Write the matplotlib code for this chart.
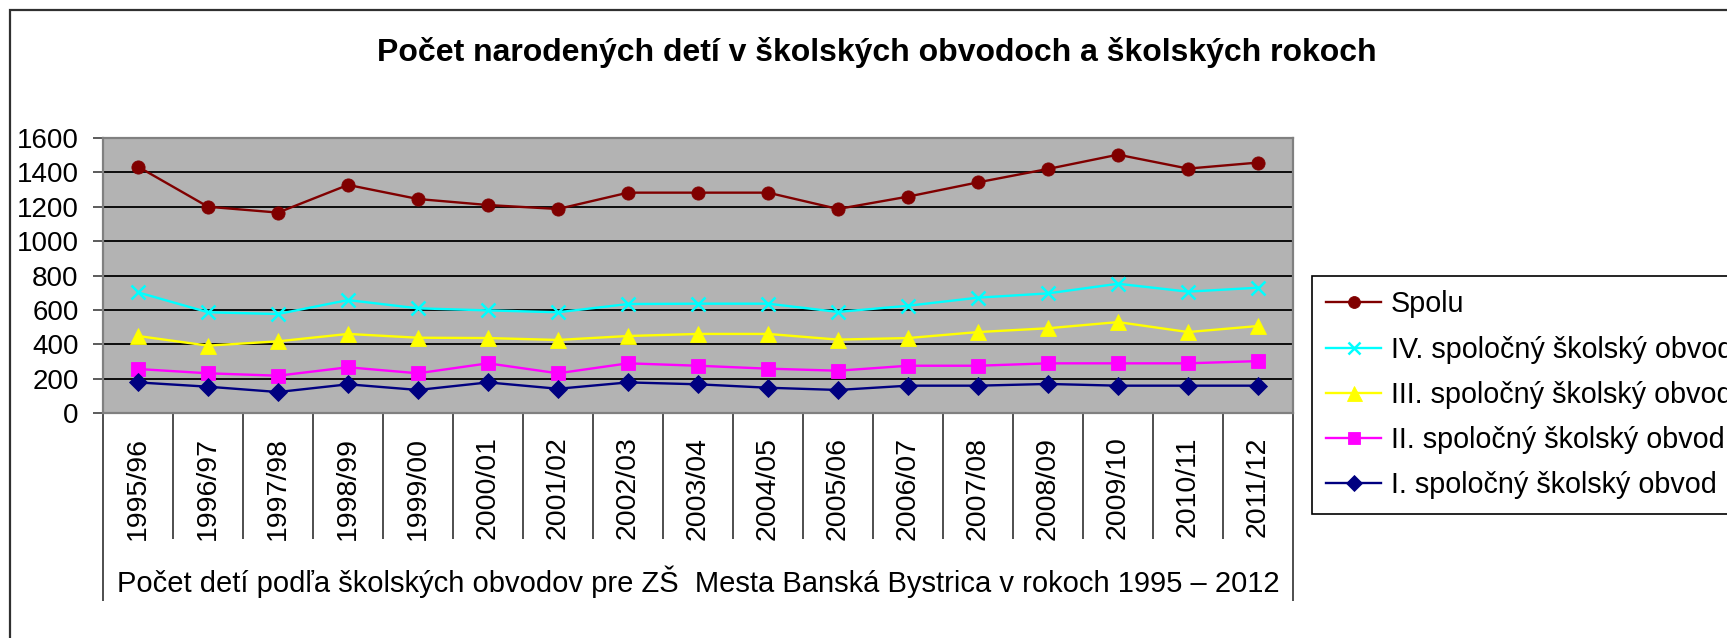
import matplotlib
matplotlib.use("Agg")
import matplotlib.pyplot as plt
from matplotlib.patches import Rectangle

plt.rcParams["font.family"] = ["Liberation Sans", "DejaVu Sans"]

# Data
years = ["1995/96", "1996/97", "1997/98", "1998/99", "1999/00", "2000/01",
         "2001/02", "2002/03", "2003/04", "2004/05", "2005/06", "2006/07",
         "2007/08", "2008/09", "2009/10", "2010/11", "2011/12"]
spolu = [1433, 1200, 1166, 1327, 1245, 1210, 1187, 1282, 1282, 1282, 1187,
         1259, 1342, 1420, 1503, 1422, 1457]
obvod_iv = [702, 586, 576, 657, 609, 597, 586, 634, 636, 636, 588, 624, 671,
            696, 752, 706, 729]
obvod_iii = [448, 392, 417, 460, 438, 436, 425, 448, 460, 460, 427, 436, 471,
             493, 529, 471, 506]
obvod_ii = [256, 231, 217, 266, 231, 289, 231, 289, 275, 258, 246, 275, 275,
            289, 289, 289, 302]
obvod_i = [178, 153, 122, 167, 134, 178, 141, 178, 167, 147, 134, 159, 159,
           169, 159, 159, 159]

series = [
    ("Spolu", spolu, "#800000", "o", 9.5),
    ("IV. spoločný školský obvod", obvod_iv, "#00FFFF", "x", 10),
    ("III. spoločný školský obvod", obvod_iii, "#FFFF00", "^", 12),
    ("II. spoločný školský obvod", obvod_ii, "#FF00FF", "s", 9.5),
    ("I. spoločný školský obvod", obvod_i, "#000080", "D", 9),
]

W, H = 1727, 638
fig = plt.figure(figsize=(W / 100, H / 100), dpi=100)
ax = fig.add_axes([103 / W, 1 - 413 / H, (1293 - 103) / W, (413 - 138) / H])
ax.set_facecolor("#B3B3B3")

x = list(range(len(years)))
for label, vals, color, marker, ms in series:
    ax.plot(x, vals, color=color, linewidth=1.7, marker=marker, markersize=ms,
            markeredgewidth=1.8 if marker == "x" else 0.6,
            markeredgecolor=color, label=label, zorder=3)

# y axis
ax.set_ylim(0, 1600)
ax.set_yticks(range(0, 1601, 200))
ax.yaxis.grid(True, color="black", linewidth=1.3)
ax.set_axisbelow(True)
ax.tick_params(axis="y", labelsize=20, length=7.5, width=1.2,
               color="#404040", pad=10)

# x axis: category "table" with separators
ax.set_xlim(-0.5, len(years) - 0.5)
ax.set_xticks(x)
ax.set_xticklabels(years, rotation=90, va="top", ha="center")
ax.tick_params(axis="x", which="major", length=0, labelsize=20.5, pad=17)
ax.set_xticks([i - 0.5 for i in range(len(years) + 1)], minor=True)
ax.tick_params(axis="x", which="minor", length=91, width=1.3,
               color="#404040")
minor = ax.xaxis.get_minor_ticks()
for t in (minor[0], minor[-1]):
    t.tick1line.set_markersize(135)
    t.tick1line.set_color("black")

for s in ax.spines.values():
    s.set_color("#808080")
    s.set_linewidth(1.6)

ax.text(0.5, -0.615, "Počet detí podľa školských obvodov pre ZŠ  Mesta Banská "
        "Bystrica v rokoch 1995 – 2012", transform=ax.transAxes,
        ha="center", va="center", fontsize=21)

fig.text(877 / W, 1 - 52 / H,
         "Počet narodených detí v školských obvodoch a školských rokoch",
         ha="center", va="center", fontsize=23, fontweight="bold")

leg = fig.legend(loc="upper left", bbox_to_anchor=(1312 / W, 1 - 276 / H),
                 borderaxespad=0, fontsize=20.7, frameon=True, fancybox=False,
                 edgecolor="black", framealpha=1, handlelength=1.9,
                 handletextpad=0.35, borderpad=0.5, labelspacing=0.6,
                 markerscale=0.9)
leg.get_frame().set_linewidth(1.2)

# outer chart border (continues past the right and bottom edges)
fig.patches.append(Rectangle((10 / W, -0.2), 2.0, 1 - 10 / H + 0.2,
                             transform=fig.transFigure, fill=False,
                             edgecolor="#303030", linewidth=1.6))

fig.savefig("out.png", dpi=100, facecolor="white")
